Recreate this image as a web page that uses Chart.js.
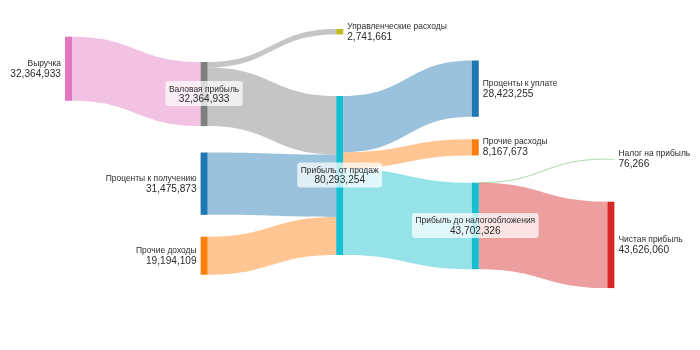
<!DOCTYPE html>
<html>
<head>
<meta charset="utf-8">
<script src="https://cdn.jsdelivr.net/npm/chart.js@4/dist/chart.umd.min.js"></script>
<style>
html,body{margin:0;padding:0;background:#fff;}
#wrap{width:700px;height:350px;}
</style>
</head>
<body>
<div id="wrap"><canvas id="c" width="700" height="350"></canvas></div>
<script>
// ---- data ----
const nodeNames = ['Выручка','Валовая прибыль','Проценты к получению','Прочие доходы','Управленческие расходы','Прибыль от продаж','Проценты к уплате','Прочие расходы','Прибыль до налогообложения','Налог на прибыль','Чистая прибыль'];
const linkSource = [0,1,1,2,3,5,5,5,8,8];
const linkTarget = [1,4,5,5,5,6,7,8,9,10];
const linkValue  = [32364933,2741661,29623272,31475873,19194109,28423255,8167673,43702326,76266,43626060];

// ---- layout (column index and top of each node, in millions on the value axis) ----
const nodeColumn = [0,1,1,1,2,2,3,3,3,4,4];
const nodeTop    = [18.54,31.31,77.02,119.55,14.65,48.48,30.56,70.35,92.27,80.3,101.87];
const labelMode  = ['left','center','left','left','right','center','right','right','center','right','right'];

// ---- styles ----
const nodeColors = ['#e377c2','#7f7f7f','#1f77b4','#ff7f0e','#bcbd22','#17becf','#1f77b4','#ff7f0e','#17becf','#2ca02c','#d62728'];
const linkColors = ['rgba(227,119,194,0.45)','rgba(127,127,127,0.45)','rgba(127,127,127,0.45)','rgba(31,119,180,0.45)','rgba(255,127,14,0.45)','rgba(31,119,180,0.45)','rgba(255,127,14,0.45)','rgba(23,190,207,0.45)','rgba(44,160,44,0.4)','rgba(214,39,40,0.45)'];
const NODE_W = 7;
const FONT = '"Liberation Sans", Arial, sans-serif';

function nodeValues(){
  const inS = new Array(nodeNames.length).fill(0), outS = new Array(nodeNames.length).fill(0);
  linkValue.forEach((v,i)=>{ outS[linkSource[i]] += v; inS[linkTarget[i]] += v; });
  return nodeNames.map((_,i)=>Math.max(inS[i],outS[i]));
}

function drawText(ctx, x, y, text, font, align, sx){
  ctx.save();
  ctx.translate(x, y);
  ctx.scale(sx, 1);
  ctx.font = font;
  ctx.textAlign = align;
  ctx.textBaseline = 'alphabetic';
  ctx.fillText(text, 0, 0);
  ctx.restore();
}
function textW(ctx, text, font, sx){ ctx.save(); ctx.font = font; const w = ctx.measureText(text).width*sx; ctx.restore(); return w; }

const sankeyPlugin = {
  id: 'sankey',
  afterDatasetsDraw(chart){
    const ctx = chart.ctx, xs = chart.scales.x, ys = chart.scales.y;
    const vals = nodeValues();
    const M = 1e6;
    const nodes = nodeNames.map((n,i)=>{
      const x0 = xs.getPixelForValue(nodeColumn[i]);
      const y0 = ys.getPixelForValue(nodeTop[i]);
      const y1 = ys.getPixelForValue(nodeTop[i] + vals[i]/M);
      return {x0, x1:x0+NODE_W, y0, y1, outOff:nodeTop[i], inOff:nodeTop[i]};
    });
    // links
    linkValue.forEach((v,i)=>{
      const s = nodes[linkSource[i]], t = nodes[linkTarget[i]];
      const sa = ys.getPixelForValue(s.outOff), sb = ys.getPixelForValue(s.outOff + v/M);
      const ta = ys.getPixelForValue(t.inOff),  tb = ys.getPixelForValue(t.inOff + v/M);
      s.outOff += v/M; t.inOff += v/M;
      const xa = s.x1, xb = t.x0, xm = (xa+xb)/2;
      ctx.save();
      if (sb - sa < 1){
        const yc1 = (sa+sb)/2, yc2 = (ta+tb)/2;
        ctx.strokeStyle = linkColors[i];
        ctx.lineWidth = 1;
        ctx.beginPath();
        ctx.moveTo(xa, yc1);
        ctx.bezierCurveTo(xm, yc1, xm, yc2, xb, yc2);
        ctx.stroke();
      } else {
        ctx.fillStyle = linkColors[i];
        ctx.beginPath();
        ctx.moveTo(xa, sa);
        ctx.bezierCurveTo(xm, sa, xm, ta, xb, ta);
        ctx.lineTo(xb, tb);
        ctx.bezierCurveTo(xm, tb, xm, sb, xa, sb);
        ctx.closePath();
        ctx.fill();
      }
      ctx.restore();
    });
    // nodes
    nodes.forEach((n,i)=>{
      ctx.fillStyle = nodeColors[i];
      ctx.fillRect(n.x0, n.y0, NODE_W, Math.max(n.y1-n.y0, 0.3));
    });
    // labels
    const f1 = '9.6px ' + FONT, f2 = '11.5px ' + FONT, SX = 0.88;
    const TXT = '#2b2b2b';
    nodes.forEach((n,i)=>{
      const cy = (n.y0+n.y1)/2;
      const name = nodeNames[i], num = vals[i].toLocaleString('en-US');
      if (labelMode[i] === 'left'){
        ctx.fillStyle = TXT;
        drawText(ctx, n.x0-4, cy-3, name, f1, 'right', SX);
        drawText(ctx, n.x0-4, cy+8, num, f2, 'right', SX);
      } else if (labelMode[i] === 'right'){
        ctx.fillStyle = TXT;
        drawText(ctx, n.x1+4, cy-3, name, f1, 'left', SX);
        drawText(ctx, n.x1+4, cy+8, num, f2, 'left', SX);
      } else {
        const cx = (n.x0+n.x1)/2;
        const w = Math.max(textW(ctx,name,f1,SX), textW(ctx,num,f2,SX)) + 7;
        ctx.save();
        ctx.fillStyle = 'rgba(255,255,255,0.72)';
        ctx.beginPath();
        if (ctx.roundRect) ctx.roundRect(cx-w/2, cy-13, w, 25, 3); else ctx.rect(cx-w/2, cy-13, w, 25);
        ctx.fill();
        ctx.restore();
        ctx.fillStyle = TXT;
        drawText(ctx, cx, cy-2.5, name, f1, 'center', SX);
        drawText(ctx, cx, cy+8, num, f2, 'center', SX);
      }
    });
  }
};

// column spacing of ~135.6px with first column at x=65 on a 700px area
const COL_PX = 135.6, FIRST_PX = 65;
const xMin = -FIRST_PX/COL_PX, xMax = xMin + 700/COL_PX;
const PX_PER_M = 1.98;

new Chart(document.getElementById('c'), {
  type: 'scatter',
  data: { datasets: [{ data: [], showLine:false }] },
  options: {
    responsive: false,
    animation: false,
    layout: { padding: 0 },
    plugins: { legend: { display:false }, tooltip: { enabled:false } },
    scales: {
      x: { type:'linear', display:false, min:xMin, max:xMax },
      y: { type:'linear', display:false, min:0, max:350/PX_PER_M, reverse:true }
    }
  },
  plugins: [sankeyPlugin]
});
</script>
</body>
</html>
